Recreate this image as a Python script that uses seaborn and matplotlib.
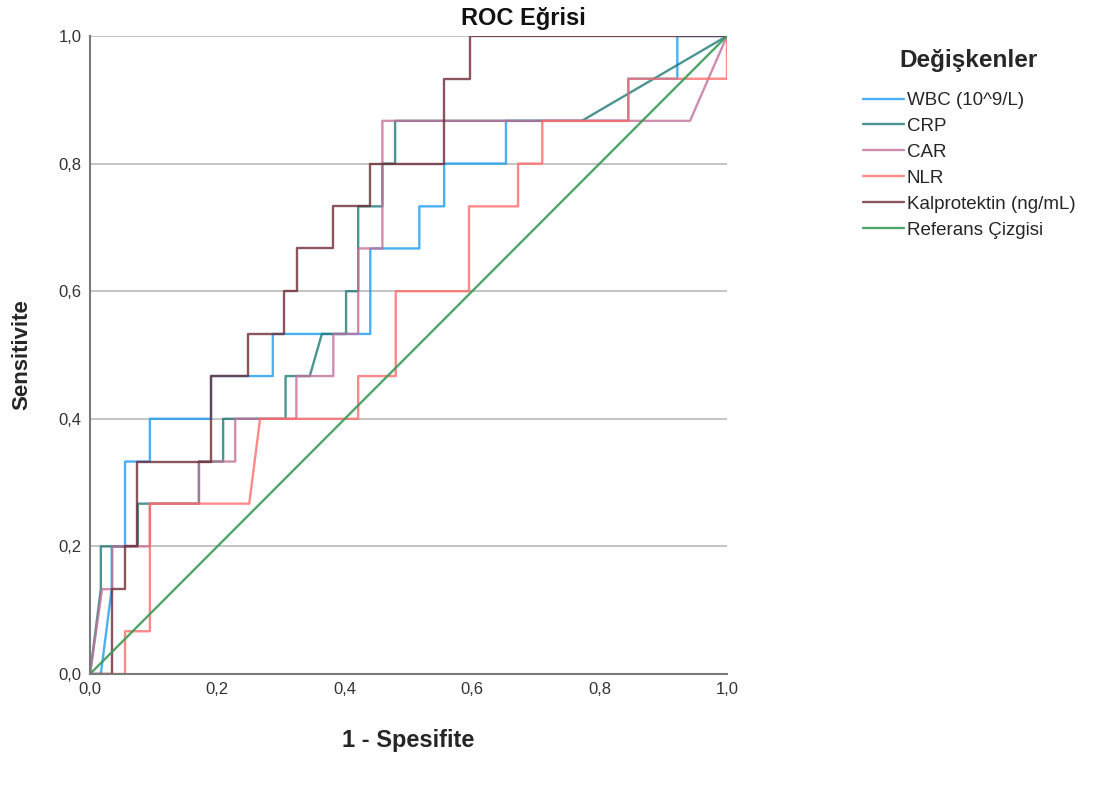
import matplotlib
matplotlib.use("Agg")
import matplotlib.pyplot as plt
import seaborn as sns
import pandas as pd
from matplotlib.ticker import FuncFormatter

sns.set_theme(style="white")
plt.rcParams['font.family'] = ['Liberation Sans', 'DejaVu Sans']

# 1 - specificity (x) and sensitivity (y) for each variable
wbc_x = [0, 0.017, 0.034, 0.034, 0.055, 0.055, 0.094, 0.094, 0.19, 0.19, 0.287, 0.287, 0.44, 0.44, 0.517, 0.517, 0.556, 0.556, 0.653, 0.653, 0.845, 0.845, 0.922, 0.922, 1.0]
wbc_y = [0, 0, 0.133, 0.2, 0.2, 0.333, 0.333, 0.4, 0.4, 0.467, 0.467, 0.533, 0.533, 0.667, 0.667, 0.733, 0.733, 0.8, 0.8, 0.867, 0.867, 0.933, 0.933, 1.0, 1.0]

crp_x = [0, 0.017, 0.017, 0.075, 0.075, 0.171, 0.171, 0.209, 0.209, 0.307, 0.307, 0.345, 0.364, 0.402, 0.402, 0.421, 0.421, 0.459, 0.459, 0.479, 0.479, 0.772, 1.0]
crp_y = [0, 0.133, 0.2, 0.2, 0.267, 0.267, 0.333, 0.333, 0.4, 0.4, 0.467, 0.467, 0.533, 0.533, 0.6, 0.6, 0.733, 0.733, 0.8, 0.8, 0.867, 0.867, 1.0]

car_x = [0, 0.019, 0.035, 0.035, 0.094, 0.094, 0.171, 0.171, 0.228, 0.228, 0.324, 0.324, 0.382, 0.382, 0.421, 0.421, 0.459, 0.459, 0.942, 1.0]
car_y = [0, 0.133, 0.133, 0.2, 0.2, 0.267, 0.267, 0.333, 0.333, 0.4, 0.4, 0.467, 0.467, 0.533, 0.533, 0.667, 0.667, 0.867, 0.867, 1.0]

nlr_x = [0, 0.055, 0.055, 0.094, 0.094, 0.25, 0.267, 0.421, 0.421, 0.48, 0.48, 0.595, 0.595, 0.672, 0.672, 0.71, 0.71, 0.845, 0.845, 1.0, 1.0]
nlr_y = [0, 0, 0.067, 0.067, 0.267, 0.267, 0.4, 0.4, 0.467, 0.467, 0.6, 0.6, 0.733, 0.733, 0.8, 0.8, 0.867, 0.867, 0.933, 0.933, 1.0]

kal_x = [0, 0.035, 0.035, 0.055, 0.055, 0.074, 0.074, 0.19, 0.19, 0.248, 0.248, 0.305, 0.305, 0.325, 0.325, 0.382, 0.382, 0.44, 0.44, 0.556, 0.556, 0.596, 0.596, 1.0]
kal_y = [0, 0, 0.133, 0.133, 0.2, 0.2, 0.333, 0.333, 0.467, 0.467, 0.533, 0.533, 0.6, 0.6, 0.667, 0.667, 0.733, 0.733, 0.8, 0.8, 0.933, 0.933, 1.0, 1.0]

ref_x = [0, 1.0]
ref_y = [0, 1.0]

labels = ["WBC (10^9/L)", "CRP", "CAR", "NLR", "Kalprotektin (ng/mL)", "Referans Çizgisi"]
colors = ["#1e9cf0", "#1f7a76", "#c2709a", "#ff6b6b", "#6e2a35", "#3c9a58"]
xs = [wbc_x, crp_x, car_x, nlr_x, kal_x, ref_x]
ys = [wbc_y, crp_y, car_y, nlr_y, kal_y, ref_y]

fig = plt.figure(figsize=(10.97, 8.11), dpi=100)
ax = fig.add_axes([90/1097, 1-674/811, 637/1097, 638/811])

for lab, col, x, y in zip(labels, colors, xs, ys):
    df = pd.DataFrame({"x": x, "y": y})
    sns.lineplot(data=df, x="x", y="y", sort=False, estimator=None, color=col,
                 alpha=0.8 if lab != "Referans Çizgisi" else 0.9,
                 linewidth=1.7, label=lab, ax=ax)

ax.set_xlim(0, 1.0)
ax.set_ylim(0, 1.0)
ticks = [0, 0.2, 0.4, 0.6, 0.8, 1.0]
ax.set_xticks(ticks)
ax.set_yticks(ticks)
fmt = FuncFormatter(lambda v, p: f"{v:.1f}".replace(".", ","))
ax.xaxis.set_major_formatter(fmt)
ax.yaxis.set_major_formatter(fmt)
ax.tick_params(axis='both', labelsize=12, length=0, pad=6, colors="#333333")
ax.yaxis.grid(True, color="#c4c4c4", linewidth=1.4)
ax.xaxis.grid(False)
for s in ["top", "right"]:
    ax.spines[s].set_visible(False)
for s in ["left", "bottom"]:
    ax.spines[s].set_color("#7a7a7a")
    ax.spines[s].set_linewidth(1.5)

ax.set_xlabel("1 - Spesifite", fontsize=17, fontweight="bold")
ax.xaxis.set_label_coords(0.5, (674-740)/638)
ax.xaxis.label.set_va("center")
ax.set_ylabel("Sensitivite", fontsize=16, fontweight="bold")
ax.yaxis.set_label_coords((22-90)/637, 0.5)
ax.yaxis.label.set_va("center")
ax.text((523-90)/637, (674-18)/638, "ROC Eğrisi", transform=ax.transAxes,
        ha="center", va="center", fontsize=17, fontweight="bold", color="#111111")

leg = ax.legend(loc="upper left", bbox_to_anchor=(855/1097, 1-42/811),
                bbox_transform=fig.transFigure, frameon=False,
                title="Değişkenler", fontsize=13.5, handlelength=2.2,
                handletextpad=0.15, labelspacing=0.47, borderaxespad=0)
leg.get_title().set_fontweight("bold")
leg.get_title().set_fontsize(17.5)
leg._legend_box.sep = 14
for line in leg.get_lines():
    line.set_linewidth(1.7)

fig.savefig("out.png", dpi=100, facecolor="white")
